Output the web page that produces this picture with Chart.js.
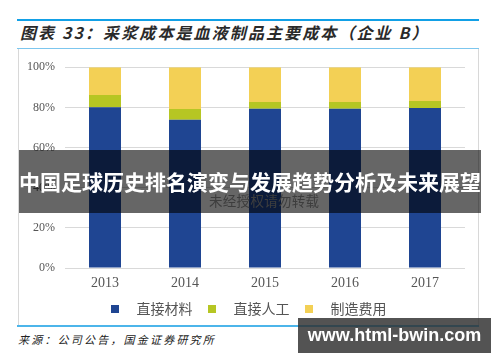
<!DOCTYPE html>
<html>
<head>
<meta charset="utf-8">
<script src="https://cdn.jsdelivr.net/npm/chart.js@4"></script>
<style>
  html, body { margin: 0; padding: 0; background: #fff; }
  body { width: 500px; height: 362px; position: relative; overflow: hidden; font-family: "Noto Sans CJK SC", sans-serif; }
  .rule-top { position: absolute; left: 17px; top: 19px; width: 462px; height: 2px; background: #12a0e6; }
  .title { position: absolute; left: 20px; top: 20px; font-size: 16px; font-style: italic; font-weight: bold; color: #2a2a2a; letter-spacing: 2.1px; line-height: 24px; white-space: nowrap; }
  .rule-mid { position: absolute; left: 17px; top: 48px; width: 462px; height: 1px; background: #7cc6ee; }
  .frame { position: absolute; left: 18px; top: 49px; width: 459px; height: 276px; border-left: 1px solid #d8d8d8; border-right: 1px solid #d8d8d8; }
  .rule-bot { position: absolute; left: 17px; top: 325px; width: 462px; height: 2px; background: #4cb5ea; }
  #wrap { position: absolute; left: 19px; top: 50px; width: 459px; height: 276px; }
  .faint { position: absolute; left: 209px; top: 190px; font-size: 13.5px; color: #9a9a9a; letter-spacing: 0.3px; }
  .band { position: absolute; left: 19px; top: 150px; width: 462px; height: 63px; background: rgba(0,0,0,0.6); color: #fff; font-size: 21px; font-weight: bold; line-height: 63px; text-align: center; white-space: nowrap; }
  .source { position: absolute; left: 18px; top: 331px; font-size: 11px; color: #222; font-style: italic; letter-spacing: 2.2px; white-space: nowrap; }
  .mark { position: absolute; left: 298px; top: 318px; width: 193px; height: 35px; background: rgba(45,45,45,0.82); color: #fff; font-family: "Liberation Sans", Arial, sans-serif; font-weight: bold; font-size: 18px; line-height: 35px; text-align: center; }
</style>
</head>
<body>
<div class="rule-top"></div>
<div class="title">图表 33：采浆成本是血液制品主要成本（企业 B）</div>
<div class="rule-mid"></div>
<div class="frame"></div>
<div class="rule-bot"></div>
<div id="wrap"><canvas id="chart" width="459" height="276"></canvas></div>
<div class="faint">未经授权请勿转载</div>
<div class="band">中国足球历史排名演变与发展趋势分析及未来展望</div>
<div class="source">来源：公司公告，国金证券研究所</div>
<div class="mark">www.html-bwin.com</div>

<script>
// 데이터 (원본 그림에서 읽은 값, %)
const years = ['2013', '2014', '2015', '2016', '2017'];
const seriesNames = ['直接材料', '直接人工', '制造费用'];
const directMaterial = [80.0, 73.8, 79.3, 79.3, 79.7];
const directLabor = [6.2, 5.4, 3.4, 3.4, 3.5];
const overhead = [13.8, 20.8, 17.3, 17.3, 16.8];
const yTicks = [0, 20, 40, 60, 80, 100];

const colors = ['#1f4592', '#b6c623', '#f3d055'];

// 범례를 조금 오른쪽으로 이동 (원본은 플롯 영역 중앙 기준)
const legendShift = {
  id: 'legendShift',
  afterLayout(chart) {
    chart.legend.left += 12;
    chart.legend.right += 12;
  }
};

const ctx = document.getElementById('chart').getContext('2d');
new Chart(ctx, {
  type: 'bar',
  data: {
    labels: years,
    datasets: [directMaterial, directLabor, overhead].map((values, i) => ({
      label: seriesNames[i],
      data: values,
      backgroundColor: colors[i],
      borderWidth: 0,
      categoryPercentage: 1,
      barPercentage: 0.4,
    }))
  },
  options: {
    responsive: false,
    animation: false,
    layout: { padding: { top: 16, right: 13, bottom: 0, left: 0 } },
    scales: {
      x: {
        stacked: true,
        afterFit: (scale) => { scale.height = 29; },
        grid: { display: false, drawTicks: false },
        border: { display: false },
        ticks: {
          padding: 7,
          color: '#555',
          font: { family: 'Liberation Serif', size: 14 }
        }
      },
      y: {
        stacked: true,
        min: 0,
        max: 100,
        afterFit: (scale) => { scale.width = 46; },
        afterBuildTicks: (scale) => { scale.ticks = yTicks.map(v => ({ value: v })); },
        grid: { color: '#d9d9d9', drawTicks: false },
        border: { display: false },
        ticks: {
          padding: 10,
          color: '#555',
          font: { family: 'Liberation Serif', size: 12 },
          callback: (v) => v + '%'
        }
      }
    },
    plugins: {
      tooltip: { enabled: false },
      legend: {
        position: 'bottom',
        labels: {
          boxWidth: 8,
          boxHeight: 8,
          padding: 5,
          color: '#555',
          font: { family: 'Noto Sans CJK SC', size: 14 },
          generateLabels: (chart) => {
            const items = Chart.defaults.plugins.legend.labels.generateLabels(chart);
            items.forEach(it => { it.text = '\u2002\u2005' + it.text + '\u2005\u2005\u2005'; });
            return items;
          }
        }
      }
    }
  },
  plugins: [legendShift]
});
</script>
</body>
</html>
